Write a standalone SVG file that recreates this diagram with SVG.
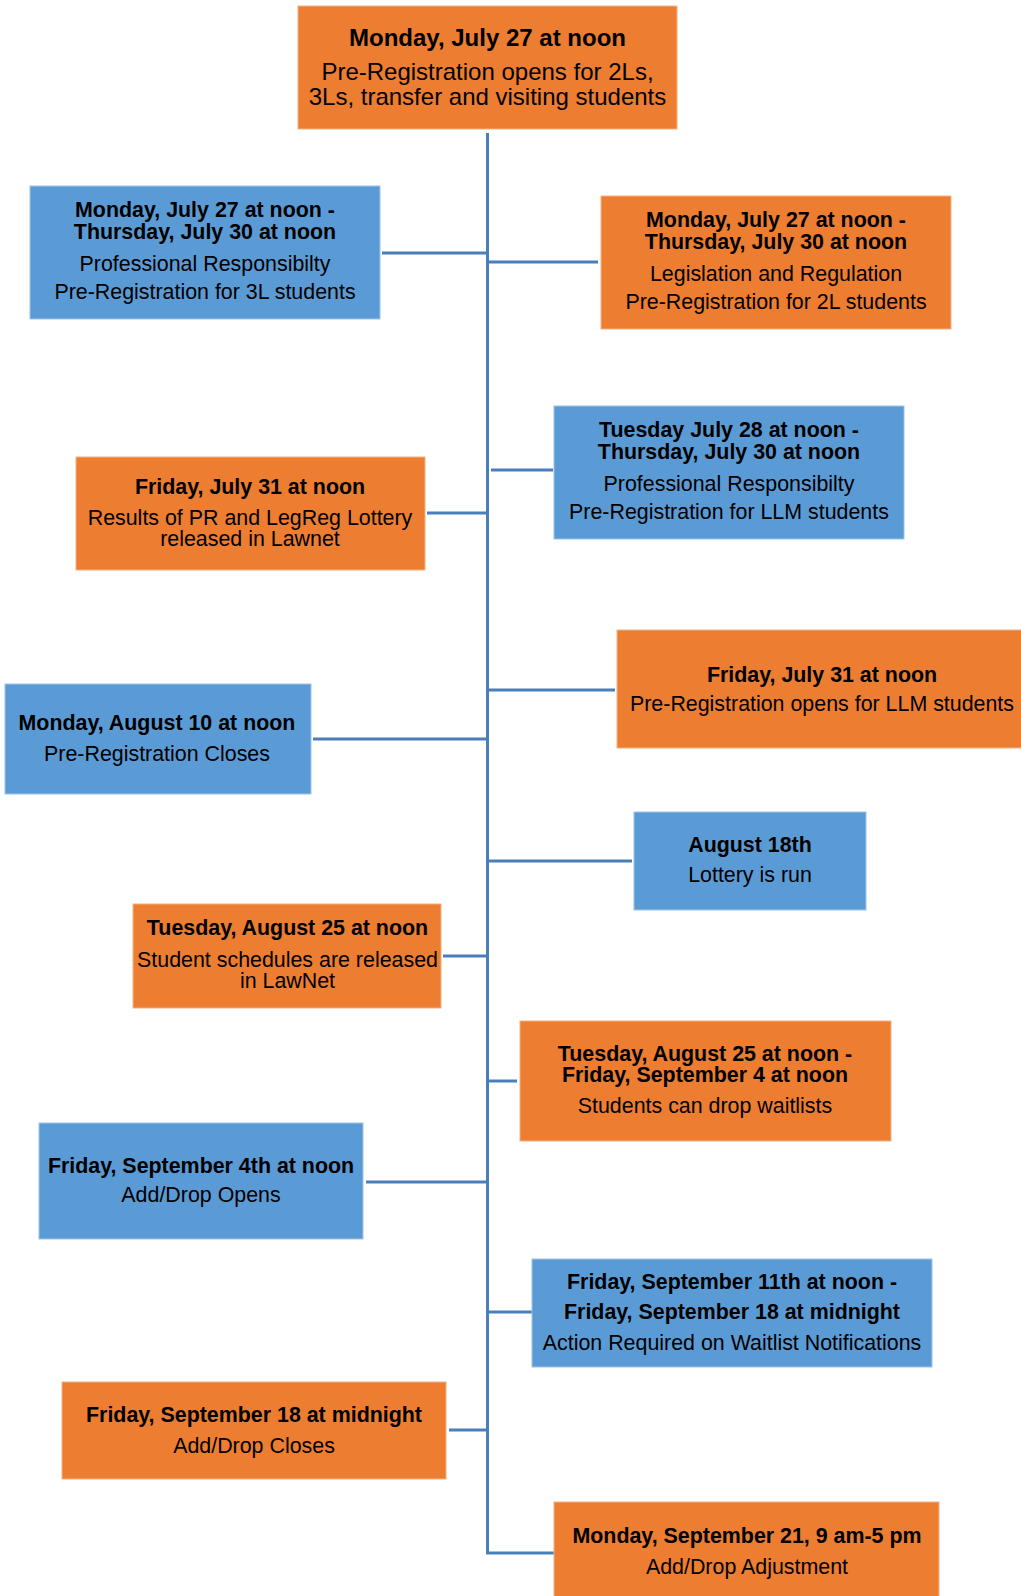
<svg xmlns="http://www.w3.org/2000/svg" width="1021" height="1596" viewBox="0 0 1021 1596">
<style>
.or{fill:#ED7D31;stroke:#F4B183;stroke-width:1}
.bl{fill:#5B9BD5;stroke:#9DC3E6;stroke-width:1}
text{font-family:"Liberation Sans",Arial,sans-serif;fill:#000;text-anchor:middle}
.b{font-weight:bold;font-size:21.4px}
.n{font-size:21.4px}
.tb{font-weight:bold;font-size:24px}
.tn{font-size:24px}
.c{stroke:#4A7EBB;stroke-width:3;fill:none}
</style>
<rect width="1021" height="1596" fill="#fff"/>
<g id="connectors">
<path class="c" d="M487.5 133 V1553 H554"/>
<line class="c" x1="382" y1="253" x2="487.5" y2="253"/>
<line class="c" x1="487.5" y1="262" x2="598" y2="262"/>
<line class="c" x1="491" y1="470" x2="553" y2="470"/>
<line class="c" x1="427" y1="513" x2="487.5" y2="513"/>
<line class="c" x1="487.5" y1="690" x2="615" y2="690"/>
<line class="c" x1="313" y1="739" x2="487.5" y2="739"/>
<line class="c" x1="487.5" y1="861" x2="632" y2="861"/>
<line class="c" x1="443" y1="956" x2="487.5" y2="956"/>
<line class="c" x1="487.5" y1="1081" x2="517" y2="1081"/>
<line class="c" x1="366" y1="1182" x2="487.5" y2="1182"/>
<line class="c" x1="487.5" y1="1312" x2="532" y2="1312"/>
<line class="c" x1="449" y1="1430" x2="487.5" y2="1430"/>
</g>
<g id="n1">
<rect class="or" x="298" y="6" width="379" height="123"/>
<text class="tb" x="487.5" y="46">Monday, July 27 at noon</text>
<text class="tn" x="487.5" y="80">Pre-Registration opens for 2Ls,</text>
<text class="tn" x="487.5" y="105">3Ls, transfer and visiting students</text>
</g>
<g id="n2">
<rect class="bl" x="30" y="186" width="350" height="133"/>
<text class="b" x="205" y="217">Monday, July 27 at noon -</text>
<text class="b" x="205" y="239">Thursday, July 30 at noon</text>
<text class="n" x="205" y="271">Professional Responsibilty</text>
<text class="n" x="205" y="299">Pre-Registration for 3L students</text>
</g>
<g id="n3">
<rect class="or" x="601" y="196" width="350" height="133"/>
<text class="b" x="776" y="227">Monday, July 27 at noon -</text>
<text class="b" x="776" y="249">Thursday, July 30 at noon</text>
<text class="n" x="776" y="281">Legislation and Regulation</text>
<text class="n" x="776" y="309">Pre-Registration for 2L students</text>
</g>
<g id="n4">
<rect class="bl" x="554" y="406" width="350" height="133"/>
<text class="b" x="729" y="437">Tuesday July 28 at noon -</text>
<text class="b" x="729" y="459">Thursday, July 30 at noon</text>
<text class="n" x="729" y="491">Professional Responsibilty</text>
<text class="n" x="729" y="519">Pre-Registration for LLM students</text>
</g>
<g id="n5">
<rect class="or" x="76" y="457" width="349" height="113"/>
<text class="b" x="250" y="494">Friday, July 31 at noon</text>
<text class="n" x="250" y="525">Results of PR and LegReg Lottery</text>
<text class="n" x="250" y="546">released in Lawnet</text>
</g>
<g id="n6">
<rect class="or" x="617" y="630" width="410" height="118"/>
<text class="b" x="822" y="682">Friday, July 31 at noon</text>
<text class="n" x="822" y="711">Pre-Registration opens for LLM students</text>
</g>
<g id="n7">
<rect class="bl" x="5" y="684" width="306" height="110"/>
<text class="b" x="157" y="730">Monday, August 10 at noon</text>
<text class="n" x="157" y="761">Pre-Registration Closes</text>
</g>
<g id="n8">
<rect class="bl" x="634" y="812" width="232" height="98"/>
<text class="b" x="750" y="852">August 18th</text>
<text class="n" x="750" y="882">Lottery is run</text>
</g>
<g id="n9">
<rect class="or" x="133" y="904" width="308" height="104"/>
<text class="b" x="287.5" y="935">Tuesday, August 25 at noon</text>
<text class="n" x="287.5" y="967">Student schedules are released</text>
<text class="n" x="287.5" y="988">in LawNet</text>
</g>
<g id="n10">
<rect class="or" x="520" y="1021" width="371" height="120"/>
<text class="b" x="705" y="1061">Tuesday, August 25 at noon -</text>
<text class="b" x="705" y="1082">Friday, September 4 at noon</text>
<text class="n" x="705" y="1113">Students can drop waitlists</text>
</g>
<g id="n11">
<rect class="bl" x="39" y="1123" width="324" height="116"/>
<text class="b" x="201" y="1173">Friday, September 4th at noon</text>
<text class="n" x="201" y="1202">Add/Drop Opens</text>
</g>
<g id="n12">
<rect class="bl" x="532" y="1259" width="400" height="108"/>
<text class="b" x="732" y="1289">Friday, September 11th at noon -</text>
<text class="b" x="732" y="1319">Friday, September 18 at midnight</text>
<text class="n" x="732" y="1350">Action Required on Waitlist Notifications</text>
</g>
<g id="n13">
<rect class="or" x="62" y="1382" width="384" height="97"/>
<text class="b" x="254" y="1422">Friday, September 18 at midnight</text>
<text class="n" x="254" y="1453">Add/Drop Closes</text>
</g>
<g id="n14">
<rect class="or" x="554" y="1502" width="385" height="100"/>
<text class="b" x="747" y="1543">Monday, September 21, 9 am-5 pm</text>
<text class="n" x="747" y="1574">Add/Drop Adjustment</text>
</g>
</svg>
